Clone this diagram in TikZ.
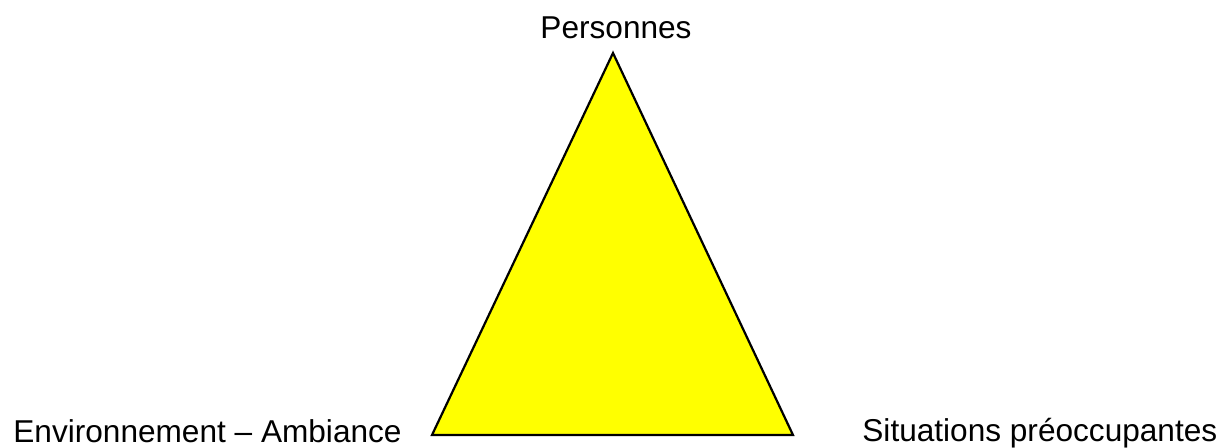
\documentclass[tikz,border=0pt]{standalone}
\usepackage{fontspec}
\setmainfont{Liberation Sans}
\usepackage{tikz}
\usetikzlibrary{calc}
\definecolor{triyellow}{RGB}{255,255,0}

\begin{document}
\begin{tikzpicture}[x=0.5pt, y=-0.5pt, font=\fontsize{15.8}{19}\selectfont]
		\useasboundingbox (0,0) rectangle (1232,447);
		\coordinate (P) at (613,53);   % top corner
		\coordinate (E) at (432,435);  % bottom left corner
		\coordinate (S) at (793,435);  % bottom right corner
		% triangle
		\draw[line width=1.1pt, fill=triyellow] (P) -- (E) -- (S) -- cycle;
		% corner labels
		\node[anchor=base, inner sep=0pt] (personnes) at (616,38) {Personnes};
		\node[anchor=base west, inner sep=0pt] (environnement) at (13,442) {Environnement -- Ambiance};
		\node[anchor=base west, inner sep=0pt] (situations) at (862,441) {Situations préoccupantes};
	\end{tikzpicture}
\end{document}
